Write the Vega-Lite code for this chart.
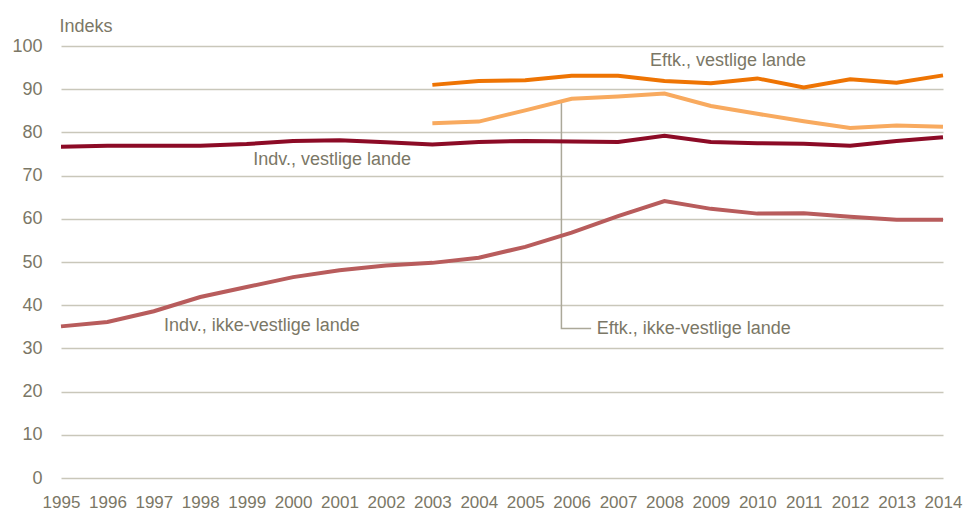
{
  "$schema": "https://vega.github.io/schema/vega-lite/v6.json",
  "width": 882,
  "height": 432,
  "autosize": {"type": "none"},
  "padding": {"left": 61, "top": 46, "right": 21, "bottom": 36},
  "background": "white",
  "config": {
    "view": {"stroke": null},
    "font": "Liberation Sans, sans-serif"
  },
  "datasets": {
    "series": [
      {"year": 1995, "s": "Indv., vestlige lande", "v": 76.7},
      {"year": 1996, "s": "Indv., vestlige lande", "v": 76.9},
      {"year": 1997, "s": "Indv., vestlige lande", "v": 76.9},
      {"year": 1998, "s": "Indv., vestlige lande", "v": 76.9},
      {"year": 1999, "s": "Indv., vestlige lande", "v": 77.3},
      {"year": 2000, "s": "Indv., vestlige lande", "v": 78.0},
      {"year": 2001, "s": "Indv., vestlige lande", "v": 78.2},
      {"year": 2002, "s": "Indv., vestlige lande", "v": 77.7},
      {"year": 2003, "s": "Indv., vestlige lande", "v": 77.2},
      {"year": 2004, "s": "Indv., vestlige lande", "v": 77.8},
      {"year": 2005, "s": "Indv., vestlige lande", "v": 78.0},
      {"year": 2006, "s": "Indv., vestlige lande", "v": 77.9},
      {"year": 2007, "s": "Indv., vestlige lande", "v": 77.8},
      {"year": 2008, "s": "Indv., vestlige lande", "v": 79.2},
      {"year": 2009, "s": "Indv., vestlige lande", "v": 77.8},
      {"year": 2010, "s": "Indv., vestlige lande", "v": 77.5},
      {"year": 2011, "s": "Indv., vestlige lande", "v": 77.4},
      {"year": 2012, "s": "Indv., vestlige lande", "v": 76.9},
      {"year": 2013, "s": "Indv., vestlige lande", "v": 78.0},
      {"year": 2014, "s": "Indv., vestlige lande", "v": 78.9},

      {"year": 1995, "s": "Indv., ikke-vestlige lande", "v": 35.1},
      {"year": 1996, "s": "Indv., ikke-vestlige lande", "v": 36.1},
      {"year": 1997, "s": "Indv., ikke-vestlige lande", "v": 38.6},
      {"year": 1998, "s": "Indv., ikke-vestlige lande", "v": 41.9},
      {"year": 1999, "s": "Indv., ikke-vestlige lande", "v": 44.2},
      {"year": 2000, "s": "Indv., ikke-vestlige lande", "v": 46.5},
      {"year": 2001, "s": "Indv., ikke-vestlige lande", "v": 48.1},
      {"year": 2002, "s": "Indv., ikke-vestlige lande", "v": 49.2},
      {"year": 2003, "s": "Indv., ikke-vestlige lande", "v": 49.8},
      {"year": 2004, "s": "Indv., ikke-vestlige lande", "v": 51.0},
      {"year": 2005, "s": "Indv., ikke-vestlige lande", "v": 53.5},
      {"year": 2006, "s": "Indv., ikke-vestlige lande", "v": 56.8},
      {"year": 2007, "s": "Indv., ikke-vestlige lande", "v": 60.6},
      {"year": 2008, "s": "Indv., ikke-vestlige lande", "v": 64.1},
      {"year": 2009, "s": "Indv., ikke-vestlige lande", "v": 62.3},
      {"year": 2010, "s": "Indv., ikke-vestlige lande", "v": 61.2},
      {"year": 2011, "s": "Indv., ikke-vestlige lande", "v": 61.3},
      {"year": 2012, "s": "Indv., ikke-vestlige lande", "v": 60.5},
      {"year": 2013, "s": "Indv., ikke-vestlige lande", "v": 59.8},
      {"year": 2014, "s": "Indv., ikke-vestlige lande", "v": 59.8},

      {"year": 2003, "s": "Eftk., vestlige lande", "v": 91.0},
      {"year": 2004, "s": "Eftk., vestlige lande", "v": 91.9},
      {"year": 2005, "s": "Eftk., vestlige lande", "v": 92.1},
      {"year": 2006, "s": "Eftk., vestlige lande", "v": 93.1},
      {"year": 2007, "s": "Eftk., vestlige lande", "v": 93.1},
      {"year": 2008, "s": "Eftk., vestlige lande", "v": 91.9},
      {"year": 2009, "s": "Eftk., vestlige lande", "v": 91.4},
      {"year": 2010, "s": "Eftk., vestlige lande", "v": 92.5},
      {"year": 2011, "s": "Eftk., vestlige lande", "v": 90.4},
      {"year": 2012, "s": "Eftk., vestlige lande", "v": 92.3},
      {"year": 2013, "s": "Eftk., vestlige lande", "v": 91.5},
      {"year": 2014, "s": "Eftk., vestlige lande", "v": 93.2},

      {"year": 2003, "s": "Eftk., ikke-vestlige lande", "v": 82.1},
      {"year": 2004, "s": "Eftk., ikke-vestlige lande", "v": 82.5},
      {"year": 2005, "s": "Eftk., ikke-vestlige lande", "v": 85.1},
      {"year": 2006, "s": "Eftk., ikke-vestlige lande", "v": 87.8},
      {"year": 2007, "s": "Eftk., ikke-vestlige lande", "v": 88.3},
      {"year": 2008, "s": "Eftk., ikke-vestlige lande", "v": 89.0},
      {"year": 2009, "s": "Eftk., ikke-vestlige lande", "v": 86.1},
      {"year": 2010, "s": "Eftk., ikke-vestlige lande", "v": 84.3},
      {"year": 2011, "s": "Eftk., ikke-vestlige lande", "v": 82.6},
      {"year": 2012, "s": "Eftk., ikke-vestlige lande", "v": 81.0},
      {"year": 2013, "s": "Eftk., ikke-vestlige lande", "v": 81.6},
      {"year": 2014, "s": "Eftk., ikke-vestlige lande", "v": 81.3}
    ],
    "labels": [
      {"year": 2009.37, "v": 96.5, "text": "Eftk., vestlige lande"},
      {"year": 2000.84, "v": 73.5, "text": "Indv., vestlige lande"},
      {"year": 1999.33, "v": 35.1, "text": "Indv., ikke-vestlige lande"}
    ],
    "labelsLeft": [
      {"year": 2006.54, "v": 34.6, "text": "Eftk., ikke-vestlige lande"}
    ],
    "connector": [
      {"year": 2005.78, "v": 87.0, "o": 1},
      {"year": 2005.78, "v": 34.6, "o": 2},
      {"year": 2006.42, "v": 34.6, "o": 3}
    ]
  },
  "layer": [
    {
      "data": {"name": "connector"},
      "mark": {"type": "line", "color": "#ABA899", "strokeWidth": 1.5},
      "encoding": {
        "x": {"field": "year", "type": "quantitative", "scale": {"domain": [1995, 2014], "nice": false, "zero": false},
          "axis": {"values": [1995,1996,1997,1998,1999,2000,2001,2002,2003,2004,2005,2006,2007,2008,2009,2010,2011,2012,2013,2014],
            "format": "d", "grid": false, "domain": false, "ticks": false, "title": null,
            "labelFontSize": 17, "labelColor": "#7B7766", "labelPadding": 16,
            "labelOverlap": false, "labelFlush": false}},
        "y": {"field": "v", "type": "quantitative", "scale": {"domain": [0, 100], "nice": false},
          "axis": {"values": [0,10,20,30,40,50,60,70,80,90,100], "grid": true, "gridColor": "#C9C7BA", "gridWidth": 1.5,
            "domain": false, "ticks": false, "labelFontSize": 18, "labelColor": "#7B7766", "labelPadding": 19,
            "title": "Indeks", "titleAngle": 0, "titleAlign": "left", "titleBaseline": "alphabetic",
            "titleX": -2, "titleY": -15, "titleFontSize": 18, "titleFontWeight": "normal", "titleColor": "#7B7766"}},
        "order": {"field": "o", "type": "quantitative"}
      }
    },
    {
      "data": {"name": "series"},
      "mark": {"type": "line", "strokeWidth": 4},
      "encoding": {
        "x": {"field": "year", "type": "quantitative"},
        "y": {"field": "v", "type": "quantitative"},
        "color": {"field": "s", "type": "nominal", "legend": null,
          "scale": {"domain": ["Indv., vestlige lande", "Indv., ikke-vestlige lande", "Eftk., vestlige lande", "Eftk., ikke-vestlige lande"],
            "range": ["#8C0B26", "#B85C5C", "#EE7403", "#F8AA5F"]}}
      }
    },
    {
      "data": {"name": "labels"},
      "mark": {"type": "text", "fontSize": 18, "color": "#7B7766", "baseline": "middle", "align": "center"},
      "encoding": {
        "x": {"field": "year", "type": "quantitative"},
        "y": {"field": "v", "type": "quantitative"},
        "text": {"field": "text"}
      }
    },
    {
      "data": {"name": "labelsLeft"},
      "mark": {"type": "text", "fontSize": 18, "color": "#7B7766", "baseline": "middle", "align": "left"},
      "encoding": {
        "x": {"field": "year", "type": "quantitative"},
        "y": {"field": "v", "type": "quantitative"},
        "text": {"field": "text"}
      }
    }
  ]
}
